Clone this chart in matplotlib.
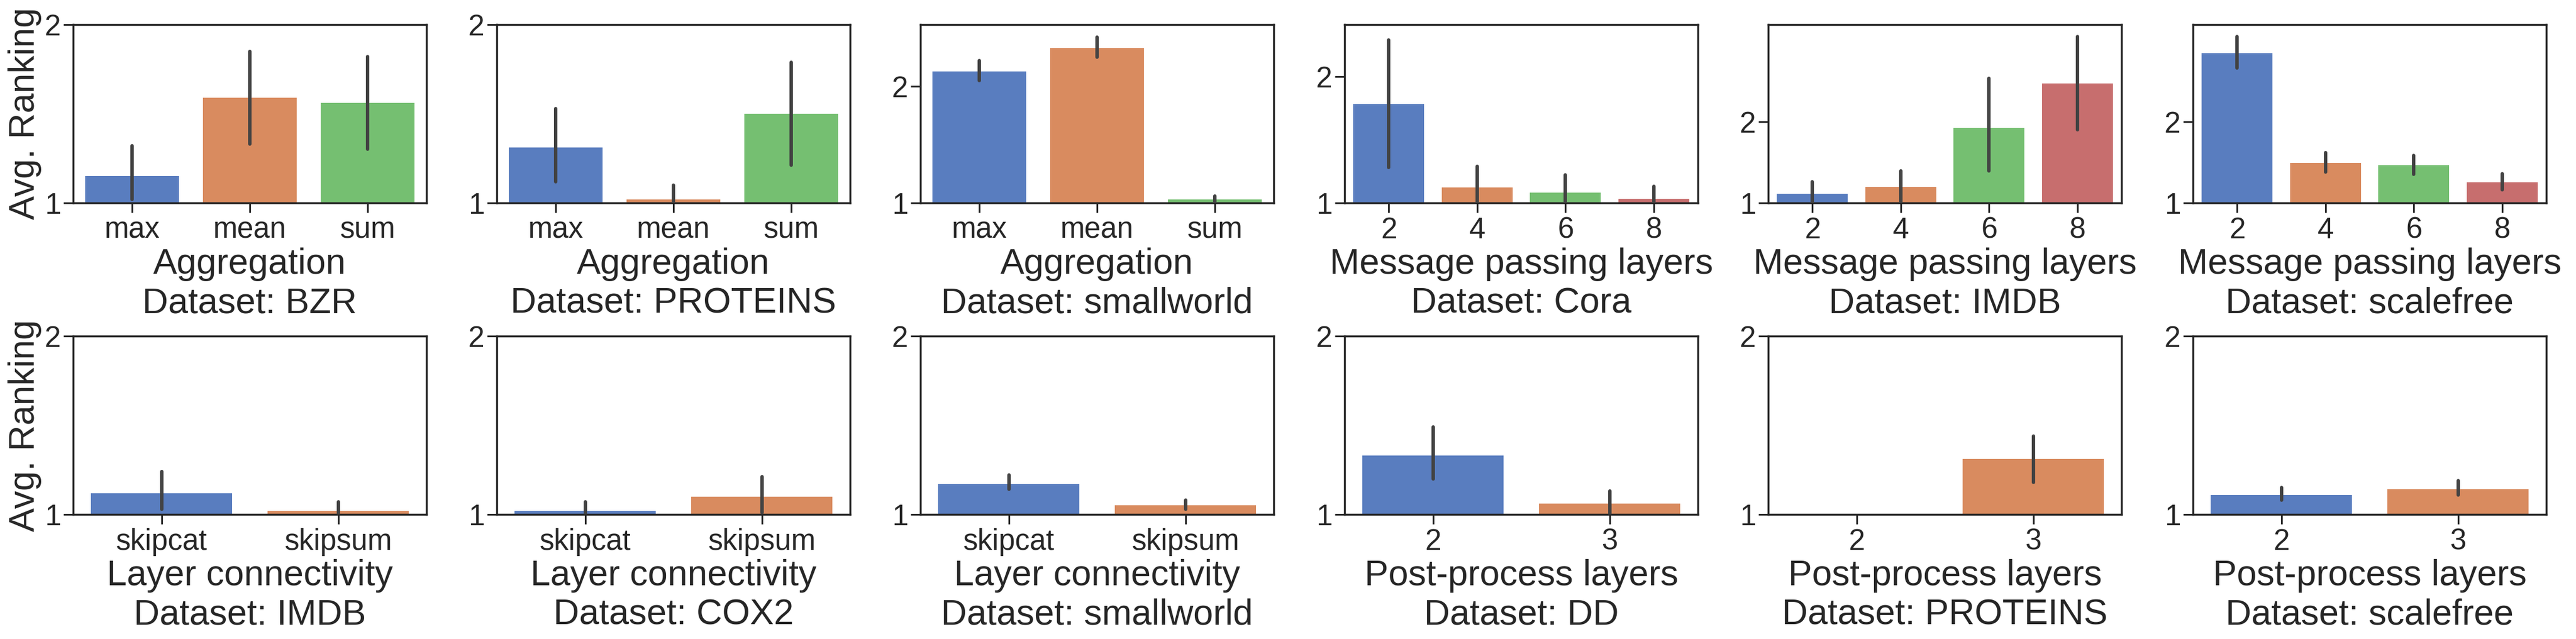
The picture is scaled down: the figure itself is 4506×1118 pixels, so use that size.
import numpy as np
import matplotlib
matplotlib.use("Agg")
import matplotlib.pyplot as plt
import seaborn as sns

# 数据: 每个面板的均值和置信区间 (lo, hi)
agg_labels = ["max", "mean", "sum"]
mp_labels = ["2", "4", "6", "8"]
lc_labels = ["skipcat", "skipsum"]
post_labels = ["2", "3"]

bzr_agg_mean = [1.15, 1.59, 1.56]
bzr_agg_lo = [1.02, 1.33, 1.30]
bzr_agg_hi = [1.32, 1.85, 1.82]

proteins_agg_mean = [1.31, 1.02, 1.50]
proteins_agg_lo = [1.12, 1.00, 1.21]
proteins_agg_hi = [1.53, 1.10, 1.79]

smallworld_agg_mean = [2.13, 2.33, 1.03]
smallworld_agg_lo = [2.05, 2.25, 1.00]
smallworld_agg_hi = [2.22, 2.42, 1.06]

cora_mp_mean = [1.78, 1.12, 1.08, 1.03]
cora_mp_lo = [1.28, 1.00, 1.00, 1.00]
cora_mp_hi = [2.29, 1.29, 1.22, 1.13]

imdb_mp_mean = [1.11, 1.20, 1.92, 2.47]
imdb_mp_lo = [1.00, 1.00, 1.39, 1.90]
imdb_mp_hi = [1.26, 1.39, 2.53, 3.04]

scalefree_mp_mean = [2.84, 1.49, 1.46, 1.25]
scalefree_mp_lo = [2.66, 1.38, 1.35, 1.16]
scalefree_mp_hi = [3.04, 1.62, 1.58, 1.36]

imdb_lc_mean = [1.12, 1.02]
imdb_lc_lo = [1.03, 1.00]
imdb_lc_hi = [1.24, 1.07]

cox2_lc_mean = [1.02, 1.10]
cox2_lc_lo = [1.00, 1.01]
cox2_lc_hi = [1.07, 1.21]

smallworld_lc_mean = [1.17, 1.05]
smallworld_lc_lo = [1.14, 1.03]
smallworld_lc_hi = [1.22, 1.08]

dd_post_mean = [1.33, 1.06]
dd_post_lo = [1.20, 1.00]
dd_post_hi = [1.49, 1.13]

proteins_post_mean = [1.00, 1.31]
proteins_post_lo = [1.00, 1.18]
proteins_post_hi = [1.00, 1.44]

scalefree_post_mean = [1.11, 1.14]
scalefree_post_lo = [1.08, 1.11]
scalefree_post_hi = [1.15, 1.19]

# (x标签, 数据集, 类别, 均值, 下界, 上界, y上限)
panels = [
    ("Aggregation", "BZR", agg_labels, bzr_agg_mean, bzr_agg_lo, bzr_agg_hi, 2.0),
    ("Aggregation", "PROTEINS", agg_labels, proteins_agg_mean, proteins_agg_lo, proteins_agg_hi, 2.0),
    ("Aggregation", "smallworld", agg_labels, smallworld_agg_mean, smallworld_agg_lo, smallworld_agg_hi, 2.53),
    ("Message passing layers", "Cora", mp_labels, cora_mp_mean, cora_mp_lo, cora_mp_hi, 2.41),
    ("Message passing layers", "IMDB", mp_labels, imdb_mp_mean, imdb_mp_lo, imdb_mp_hi, 3.19),
    ("Message passing layers", "scalefree", mp_labels, scalefree_mp_mean, scalefree_mp_lo, scalefree_mp_hi, 3.19),
    ("Layer connectivity", "IMDB", lc_labels, imdb_lc_mean, imdb_lc_lo, imdb_lc_hi, 2.0),
    ("Layer connectivity", "COX2", lc_labels, cox2_lc_mean, cox2_lc_lo, cox2_lc_hi, 2.0),
    ("Layer connectivity", "smallworld", lc_labels, smallworld_lc_mean, smallworld_lc_lo, smallworld_lc_hi, 2.0),
    ("Post-process layers", "DD", post_labels, dd_post_mean, dd_post_lo, dd_post_hi, 2.0),
    ("Post-process layers", "PROTEINS", post_labels, proteins_post_mean, proteins_post_lo, proteins_post_hi, 2.0),
    ("Post-process layers", "scalefree", post_labels, scalefree_post_mean, scalefree_post_lo, scalefree_post_hi, 2.0),
]

sns.set_style("ticks")
plt.rcParams['font.family'] = ['Liberation Sans', 'DejaVu Sans']
plt.rcParams['axes.edgecolor'] = '#262626'
plt.rcParams['text.color'] = '#262626'
plt.rcParams['xtick.color'] = '#262626'
plt.rcParams['ytick.color'] = '#262626'

W, H = 4506, 1118
palette = [sns.desaturate(c, 0.75) for c in sns.color_palette("muted")]


def draw_panel(ax, xlabel, dataset, cats, mean, lo, hi, ytop, first_col):
    x = np.arange(len(cats))
    ax.bar(x, mean, width=0.8, color=palette[:len(cats)], linewidth=0)
    # 误差线
    for xi, l, h in zip(x, lo, hi):
        if h > l:
            ax.plot([xi, xi], [l, h], color='#424242', lw=4.3,
                    solid_capstyle='round', zorder=3)
    ax.set_xlim(-0.5, len(cats) - 0.5)
    ax.set_ylim(1, ytop)
    ax.set_yticks([1, 2])
    ax.set_xticks(x)
    ax.set_xticklabels(cats)
    ax.tick_params(labelsize=37, length=12, width=2.2)
    ax.tick_params(axis='x', pad=5)
    ax.tick_params(axis='y', pad=3.5)
    for s in ax.spines.values():
        s.set_linewidth(2.5)
    ax.set_xlabel(xlabel + "\nDataset: " + dataset, fontsize=45, labelpad=4)
    if first_col:
        ax.set_ylabel("Avg. Ranking", fontsize=45, labelpad=3.5)


fig = plt.figure(figsize=(W / 100, H / 100), dpi=100)

col_left = [128, 869, 1610, 2352, 3093, 3836]
ax_w = 618
row_top = [43, 588]
ax_h = 312

for i, p in enumerate(panels):
    r, c = divmod(i, 6)
    left = col_left[c] / W
    bottom = (H - row_top[r] - ax_h) / H
    ax = fig.add_axes([left, bottom, ax_w / W, ax_h / H])
    draw_panel(ax, *p, first_col=(c == 0))

plt.savefig("out.png", dpi=100)
